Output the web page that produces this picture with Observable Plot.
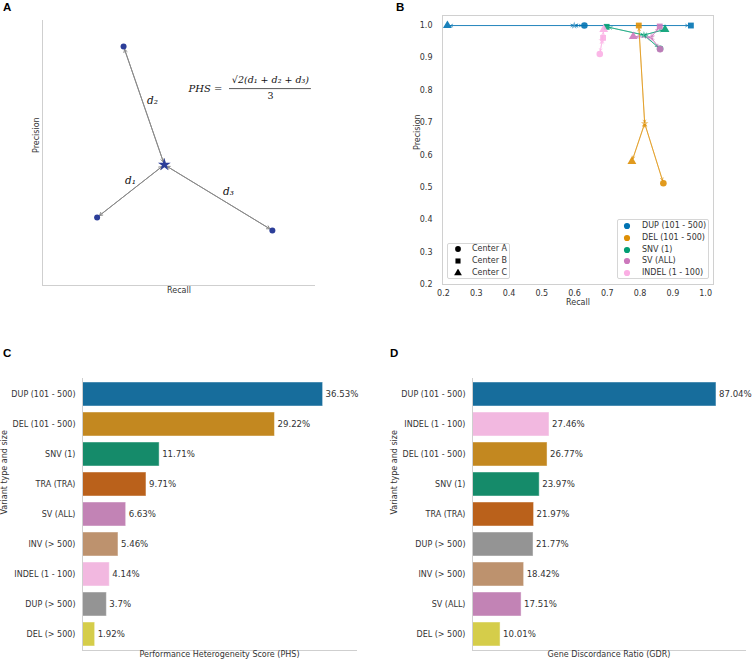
<!DOCTYPE html>
<html>
<head>
<meta charset="utf-8">
<script src="https://cdn.jsdelivr.net/npm/d3@7"></script>
<script src="https://cdn.jsdelivr.net/npm/@observablehq/plot@0.6"></script>
<style>
  body { margin: 0; background: #fff; font-family: "DejaVu Sans", sans-serif; }
  #fig { position: relative; width: 753px; height: 661px; overflow: hidden; background: #fff; }
  .panel { position: absolute; }
  .panel svg { overflow: visible; }
  .plabel { position: absolute; font: bold 11.5px "Liberation Sans", Arial, sans-serif; line-height: 12px; color: #000; }
  .legend { position: absolute; border: 1px solid #d6d6d6; border-radius: 2px; background: rgba(255,255,255,0.85); box-sizing: border-box; }
  .lrow { position: absolute; height: 12px; line-height: 12px; font-size: 8px; color: #333; white-space: nowrap; }
  .lrow svg { position: absolute; top: 2px; }
</style>
</head>
<body>
<div id="fig"></div>
<script>
// ---------------- Panel A (schematic) ----------------
const schemRecall = [0.20, 0.297, 0.842];
const schemPrecision = [0.257, 0.902, 0.208];
const distLabels = ["d₁", "d₂", "d₃"];
const distLabelRecall = [0.322, 0.403, 0.681];
const distLabelPrecision = [0.396, 0.698, 0.355];
const formulaLeft = "PHS =";
const formulaNum = "√2(d₁ + d₂ + d₃)";
const formulaDen = "3";

// ---------------- Panel B ----------------
const variantsB = ["DUP (101 - 500)", "DEL (101 - 500)", "SNV (1)", "SV (ALL)", "INDEL (1 - 100)"];
const centers = ["Center A", "Center B", "Center C"];
const recallB = [
  [0.630, 0.955, 0.212],
  [0.871, 0.796, 0.775],
  [0.861, 0.698, 0.876],
  [0.861, 0.860, 0.779],
  [0.677, 0.687, 0.689]
];
const precisionB = [
  [1.000, 1.000, 1.000],
  [0.513, 1.000, 0.580],
  [0.928, 0.996, 0.988],
  [0.927, 0.997, 0.966],
  [0.912, 0.962, 0.988]
];
const ticksB = [0.2, 0.3, 0.4, 0.5, 0.6, 0.7, 0.8, 0.9, 1.0];

// ---------------- Panels C, D ----------------
const phsCats = ["DUP (101 - 500)", "DEL (101 - 500)", "SNV (1)", "TRA (TRA)", "SV (ALL)", "INV (> 500)", "INDEL (1 - 100)", "DUP (> 500)", "DEL (> 500)"];
const phsVals = [36.53, 29.22, 11.71, 9.71, 6.63, 5.46, 4.14, 3.7, 1.92];
const gdrCats = ["DUP (101 - 500)", "INDEL (1 - 100)", "DEL (101 - 500)", "SNV (1)", "TRA (TRA)", "DUP (> 500)", "INV (> 500)", "SV (ALL)", "DEL (> 500)"];
const gdrVals = [87.04, 27.46, 26.77, 23.97, 21.97, 21.77, 18.42, 17.51, 10.01];

// palette (seaborn colorblind)
const palette = ["#0173b2", "#de8f05", "#029e73", "#d55e00", "#cc78bc", "#ca9161", "#fbafe4", "#949494", "#ece133"];
const colorOf = new Map(phsCats.map((c, i) => [c, palette[i]]));
function desat(c, p) { const h = d3.hsl(c); h.s *= p; return h.formatHex(); }
const barPalette = palette.map(c => desat(c, 0.75));

const fig = document.getElementById("fig");
const baseStyle = { fontFamily: "DejaVu Sans, sans-serif", fontSize: "8px", color: "#333", background: "transparent", overflow: "visible" };

function place(node, left, top) {
  const d = document.createElement("div");
  d.className = "panel";
  d.style.left = left + "px";
  d.style.top = top + "px";
  d.appendChild(node);
  fig.appendChild(d);
}
function panelLabel(t, left, top) {
  const d = document.createElement("div");
  d.className = "plabel";
  d.textContent = t;
  d.style.left = left + "px";
  d.style.top = top + "px";
  fig.appendChild(d);
}

// ---------- A ----------
const ptsA = schemRecall.map((x, i) => ({ x, y: schemPrecision[i], label: distLabels[i], lx: distLabelRecall[i], ly: distLabelPrecision[i] }));
const cA = { x: d3.mean(schemRecall), y: d3.mean(schemPrecision) };
const navy = "#2c3e99";
const serif = "DejaVu Serif, serif";
const plotA = Plot.plot({
  width: 376, height: 300,
  marginLeft: 42, marginRight: 61, marginTop: 20, marginBottom: 15,
  x: { domain: [0, 1], axis: null },
  y: { domain: [0, 1], axis: null },
  style: baseStyle,
  marks: [
    Plot.ruleX([0], { stroke: "#cfcfcf" }),
    Plot.ruleY([0], { stroke: "#cfcfcf" }),
    Plot.arrow(ptsA, { x1: () => cA.x, y1: () => cA.y, x2: "x", y2: "y", stroke: "#8a8a8a", strokeWidth: 1, headLength: 5, insetEnd: 3, insetStart: 3 }),
    Plot.arrow(ptsA, { x1: "x", y1: "y", x2: () => cA.x, y2: () => cA.y, stroke: "#8a8a8a", strokeWidth: 1, headLength: 5, insetEnd: 3, insetStart: 3 }),
    Plot.dot(ptsA, { x: "x", y: "y", r: 3, fill: navy }),
    Plot.dot([cA], { x: "x", y: "y", r: 4, symbol: "star", fill: navy }),
    Plot.text(ptsA, { x: "lx", y: "ly", text: "label", fontFamily: serif, fontStyle: "italic", fontSize: 10.5, fill: "#111" }),
    Plot.text([formulaLeft], { x: 0.535, y: 0.743, text: d => d, textAnchor: "start", fontFamily: serif, fontStyle: "italic", fontSize: 10, fill: "#111" }),
    Plot.text([formulaNum], { x: 0.835, y: 0.776, text: d => d, fontFamily: serif, fontStyle: "italic", fontSize: 9.5, fill: "#111" }),
    Plot.ruleY([0.743], { x1: 0.685, x2: 0.985, stroke: "#111", strokeWidth: 0.7 }),
    Plot.text([formulaDen], { x: 0.835, y: 0.714, text: d => d, fontFamily: serif, fontSize: 9.5, fill: "#111" }),
    Plot.text(["Precision"], { frameAnchor: "left", rotate: -90, dx: -6, text: d => d, fill: "#333" }),
    Plot.text(["Recall"], { frameAnchor: "bottom", dy: 7, text: d => d, fill: "#333" })
  ]
});
place(plotA, 0, 0);
panelLabel("A", 3, 1);

// ---------- B ----------
const rowsB = [];
variantsB.forEach((v, i) => centers.forEach((c, j) => rowsB.push({ variant: v, center: c, recall: recallB[i][j], precision: precisionB[i][j] })));
const centroidB = variantsB.map((v, i) => ({ variant: v, recall: d3.mean(recallB[i]), precision: d3.mean(precisionB[i]) }));
const cMap = new Map(centroidB.map(d => [d.variant, d]));
const colorsB = variantsB.map(v => colorOf.get(v));
const plotB = Plot.plot({
  width: 373, height: 315,
  marginLeft: 62, marginRight: 40, marginTop: 15, marginBottom: 31,
  x: { domain: [0.197, 1.024] },
  y: { domain: [0.2, 1.031] },
  color: { domain: variantsB, range: colorsB },
  symbol: { domain: centers, range: ["circle", "square", "triangle"] },
  style: baseStyle,
  marks: [
    Plot.frame({ stroke: "#d0d0d0" }),
    Plot.axisX({ ticks: ticksB, tickSize: 0, tickPadding: 6, tickFormat: ".1f", label: null }),
    Plot.axisY({ ticks: ticksB, tickSize: 0, tickPadding: 10, tickFormat: ".1f", label: null }),
    Plot.arrow(rowsB, { x1: d => cMap.get(d.variant).recall, y1: d => cMap.get(d.variant).precision, x2: "recall", y2: "precision", stroke: "variant", strokeOpacity: 0.6, strokeWidth: 1, headLength: 4, insetEnd: 3, insetStart: 1 }),
    Plot.arrow(rowsB, { x1: "recall", y1: "precision", x2: d => cMap.get(d.variant).recall, y2: d => cMap.get(d.variant).precision, stroke: "variant", strokeOpacity: 0.6, strokeWidth: 1, headLength: 4, insetEnd: 1, insetStart: 3 }),
    Plot.dot(centroidB, { x: "recall", y: "precision", fill: "variant", symbol: "star", r: 2.4, fillOpacity: 0.6 }),
    Plot.dot(rowsB, { x: "recall", y: "precision", fill: "variant", symbol: "center", r: 3.3, fillOpacity: 0.9 }),
    Plot.text(["Precision"], { frameAnchor: "left", rotate: -90, dx: -25, text: d => d, fill: "#333" }),
    Plot.text(["Recall"], { frameAnchor: "bottom", dy: 20, text: d => d, fill: "#333" })
  ]
});
place(plotB, 380, 0);
panelLabel("B", 396, 1);

// legends for B (HTML)
function legendBox(left, top, width, height, rows, firstCenter, spacing, markerX, textX) {
  const box = document.createElement("div");
  box.className = "legend";
  Object.assign(box.style, { left: left + "px", top: top + "px", width: width + "px", height: height + "px" });
  fig.appendChild(box);
  rows.forEach((r, i) => {
    const row = document.createElement("div");
    row.className = "lrow";
    const cy = top + firstCenter + i * spacing;
    Object.assign(row.style, { left: left + "px", top: (cy - 6) + "px", width: width + "px" });
    const svg = d3.create("svg").attr("width", 8).attr("height", 8).style("left", (markerX - 4) + "px");
    svg.append("path").attr("transform", "translate(4,4)")
      .attr("d", d3.symbol().type(r.symbol).size(r.size)())
      .attr("fill", r.color);
    row.appendChild(svg.node());
    const t = document.createElement("span");
    t.textContent = r.label;
    t.style.position = "absolute";
    t.style.left = textX + "px";
    row.appendChild(t);
    fig.appendChild(row);
  });
}
legendBox(617, 219, 92, 60, variantsB.map((v, i) => ({ label: v, symbol: d3.symbolCircle, size: 30, color: colorsB[i] })), 7, 11.75, 10, 25);
const centerSymbols = [d3.symbolCircle, d3.symbolSquare, d3.symbolTriangle];
legendBox(447, 243, 63, 36, centers.map((c, i) => ({ label: c, symbol: centerSymbols[i], size: 26, color: "#000" })), 6, 12, 11, 25);

// ---------- C & D ----------
function barPanel(cats, vals, xmax, width, marginLeft, marginRight, xlabel) {
  const data = cats.map((c, i) => ({ cat: c, value: vals[i] }));
  return Plot.plot({
    width, height: 321,
    marginLeft, marginRight, marginTop: 38, marginBottom: 11,
    x: { domain: [0, xmax], axis: null },
    y: { domain: cats, type: "band", paddingInner: 0.2, paddingOuter: 0.1 },
    color: { domain: phsCats, range: barPalette },
    style: baseStyle,
    marks: [
      Plot.barX(data, { x: "value", y: "cat", fill: "cat", stroke: "white", strokeOpacity: 0.45, strokeWidth: 1 }),
      Plot.frame({ anchor: "left", stroke: "#cfcfcf" }),
      Plot.frame({ anchor: "bottom", stroke: "#cfcfcf" }),
      Plot.axisY({ tickSize: 0, tickPadding: 7, label: null }),
      Plot.text(data, { x: "value", y: "cat", text: d => d.value + "%", textAnchor: "start", dx: 2.5, fontSize: 8.6, fill: "#333" }),
      Plot.text(["Variant type and size"], { frameAnchor: "left", rotate: -90, dx: -78, text: d => d, fill: "#333" }),
      Plot.text([xlabel], { frameAnchor: "bottom", dy: 6, text: d => d, fill: "#333" })
    ]
  });
}
place(barPanel(phsCats, phsVals, 41.6, 376, 82, 20, "Performance Heterogeneity Score (PHS)"), 0, 340);
panelLabel("C", 3, 347);
place(barPanel(gdrCats, gdrVals, 97.4, 377, 96, 8, "Gene Discordance Ratio (GDR)"), 376, 340);
panelLabel("D", 390, 347);
</script>
</body>
</html>
